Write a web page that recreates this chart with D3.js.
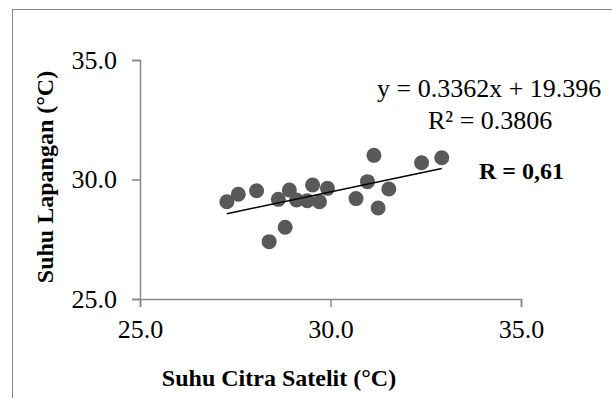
<!DOCTYPE html>
<head>
	<script src="https://d3js.org/d3.v7.min.js"></script>
	<style>
		body { margin: 0; background: #fff; }
		text { font-family: "Liberation Serif", "Times New Roman", serif; }
	</style>
</head>
<body>
	<script type="text/javascript">
		var width = 612, height = 398;

		// measured values (satellite vs field temperature)
		var satTemp = [27.28, 27.58, 28.06, 28.63, 28.92, 29.11, 29.39, 29.53, 29.71, 29.92,
			28.81, 28.39, 30.97, 30.67, 31.53, 31.25, 31.14, 32.39, 32.92];
		var fieldTemp = [29.07, 29.38, 29.53, 29.17, 29.56, 29.14, 29.11, 29.77, 29.07, 29.63,
			28.00, 27.40, 29.91, 29.20, 29.60, 28.81, 31.01, 30.70, 30.91];
		var xTicks = [25, 30, 35];
		var yTicks = [25, 30, 35];
		var slope = 0.3362, intercept = 19.396;

		var svg = d3.select('body').append('svg')
			.attr('width', width)
			.attr('height', height);

		// chart border
		svg.append('rect')
			.attr('x', 12.5).attr('y', 9.5)
			.attr('width', 620).attr('height', 400)
			.attr('fill', 'none')
			.attr('stroke', '#888')
			.attr('stroke-width', 1);

		var x = d3.scaleLinear().domain([25, 35]).range([140, 521]);
		var y = d3.scaleLinear().domain([25, 35]).range([299, 60]);

		var xAxis = svg.append('g')
			.attr('transform', 'translate(0,299)')
			.call(d3.axisBottom(x).tickValues(xTicks).tickFormat(d3.format('.1f')).tickSizeOuter(0).tickSize(8).tickPadding(13));
		var yAxis = svg.append('g')
			.attr('transform', 'translate(140,0)')
			.call(d3.axisLeft(y).tickValues(yTicks).tickFormat(d3.format('.1f')).tickSizeOuter(0).tickSize(8).tickPadding(15));

		[xAxis, yAxis].forEach(function(g){
			g.select('.domain').attr('stroke', '#878787').attr('stroke-width', 1.5);
			g.selectAll('.tick line').attr('stroke', '#878787').attr('stroke-width', 1.5);
			g.selectAll('.tick text')
				.attr('fill', '#000')
				.style('font-size', '26px')
				.style('font-family', '"Liberation Serif", serif');
		});

		// points
		var pts = satTemp.map(function(d, i){ return [d, fieldTemp[i]]; });
		svg.selectAll('circle')
			.data(pts)
			.enter()
			.append('circle')
			.attr('cx', function(d){ return x(d[0]); })
			.attr('cy', function(d){ return y(d[1]); })
			.attr('r', 7.5)
			.attr('fill', '#595959');

		// linear trendline
		var xMin = d3.min(satTemp), xMax = d3.max(satTemp);
		svg.append('line')
			.attr('x1', x(xMin)).attr('y1', y(slope * xMin + intercept))
			.attr('x2', x(xMax)).attr('y2', y(slope * xMax + intercept))
			.attr('stroke', '#000')
			.attr('stroke-width', 1.5);

		// labels
		svg.append('text')
			.attr('x', 377).attr('y', 97)
			.style('font-size', '26px')
			.text('y = 0.3362x + 19.396');
		svg.append('text')
			.attr('x', 428).attr('y', 129)
			.style('font-size', '26px')
			.text('R² = 0.3806');

		svg.append('text')
			.attr('x', 479).attr('y', 179)
			.style('font-size', '24px')
			.style('font-weight', 'bold')
			.text('R = 0,61');

		svg.append('text')
			.attr('x', 279).attr('y', 386)
			.attr('text-anchor', 'middle')
			.style('font-size', '24px')
			.style('font-weight', 'bold')
			.text('Suhu Citra Satelit (°C)');

		svg.append('text')
			.attr('transform', 'translate(53,177) rotate(-90)')
			.attr('text-anchor', 'middle')
			.style('font-size', '24px')
			.style('font-weight', 'bold')
			.text('Suhu Lapangan (°C)');
	</script>
</body>
